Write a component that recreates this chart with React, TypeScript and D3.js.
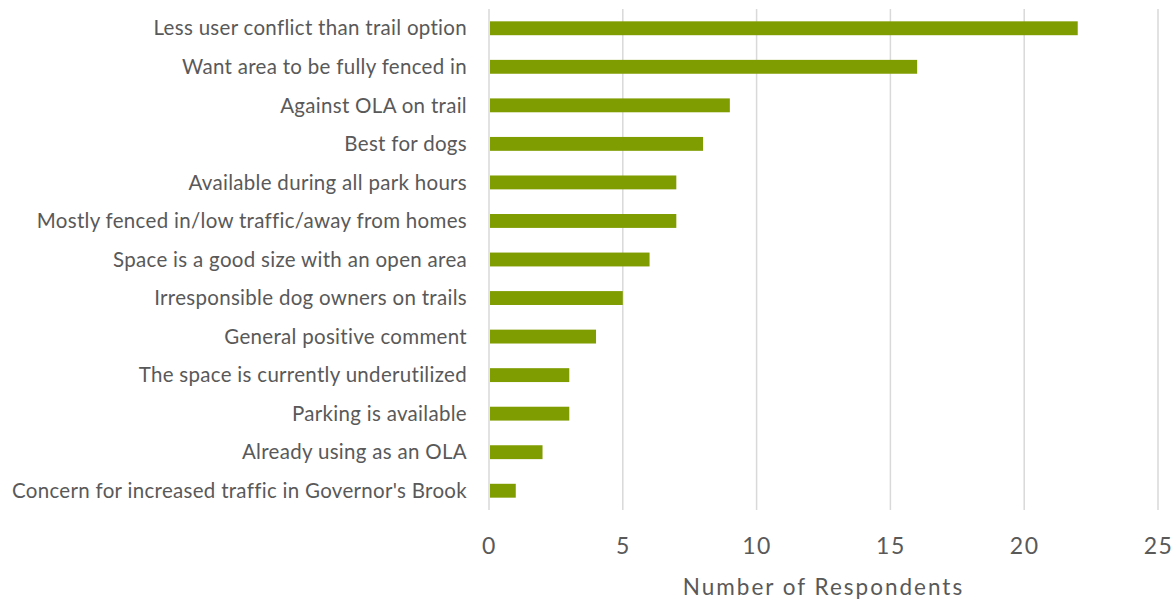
import { useEffect, useRef } from "react";
import { select, scaleBand, scaleLinear, axisBottom } from "d3";

const categories = [
	"Less user conflict than trail option",
	"Want area to be fully fenced in",
	"Against OLA on trail",
	"Best for dogs",
	"Available during all park hours",
	"Mostly fenced in/low traffic/away from homes",
	"Space is a good size with an open area",
	"Irresponsible dog owners on trails",
	"General positive comment",
	"The space is currently underutilized",
	"Parking is available",
	"Already using as an OLA",
	"Concern for increased traffic in Governor's Brook",
];
const respondents = [22, 16, 9, 8, 7, 7, 6, 5, 4, 3, 3, 2, 1];
const xTicks = [0, 5, 10, 15, 20, 25];
const xTitle = "Number of Respondents";

const width = 1176;
const height = 606;
const left = 489;
const right = 1158;
const top = 9;
const bottom = 510;
const barColor = "#7F9C00";
const textColor = "#595959";
const font = "Lato, 'Liberation Sans', sans-serif";

export default function App() {
	const svgRef = useRef<SVGSVGElement>(null);

	useEffect(() => {
		const svg = select(svgRef.current);
		svg.selectAll("*").remove();

		const xScale = scaleLinear().domain([0, 25]).range([left, right]);
		const yScale = scaleBand()
			.domain(categories)
			.range([top, bottom])
			.paddingInner(0.64)
			.paddingOuter(0.32);

		// gridlines
		svg.append("g")
			.selectAll("line")
			.data(xTicks)
			.enter()
			.append("line")
			.attr("x1", (d) => xScale(d))
			.attr("x2", (d) => xScale(d))
			.attr("y1", top)
			.attr("y2", bottom)
			.attr("stroke", "#d9d9d9")
			.attr("stroke-width", 1.5);

		svg.append("g")
			.selectAll("rect")
			.data(categories)
			.enter()
			.append("rect")
			.attr("x", xScale(0) + 1)
			.attr("y", (d) => yScale(d) ?? 0)
			.attr("height", yScale.bandwidth())
			.attr("width", (_d, i) => xScale(respondents[i]) - xScale(0) - 1)
			.attr("fill", barColor);

		svg.append("g")
			.selectAll("text")
			.data(categories)
			.enter()
			.append("text")
			.text((d) => d)
			.attr("x", 467)
			.attr("y", (d) => (yScale(d) ?? 0) + yScale.bandwidth() / 2)
			.attr("dy", "0.35em")
			.attr("text-anchor", "end")
			.attr("fill", textColor)
			.attr("font-family", font)
			.attr("font-size", 20.5)
			.attr("letter-spacing", 0.3);

		const axis = svg.append("g")
			.attr("transform", `translate(0,${bottom})`)
			.call(axisBottom(xScale).tickValues(xTicks).tickSize(0).tickPadding(28));
		axis.select(".domain").remove();
		axis.selectAll("text")
			.attr("fill", textColor)
			.attr("font-family", font)
			.attr("font-size", 23)
			.attr("letter-spacing", 1.5);

		svg.append("text")
			.text(xTitle)
			.attr("x", (left + right) / 2)
			.attr("y", 595)
			.attr("text-anchor", "middle")
			.attr("fill", textColor)
			.attr("font-family", font)
			.attr("font-size", 22.5)
			.attr("letter-spacing", 2);
	}, []);

	return (
		<svg
			ref={svgRef}
			width={width}
			height={height}
			style={{ position: "absolute", left: 0, top: 0, background: "#fff" }}
		/>
	);
}
